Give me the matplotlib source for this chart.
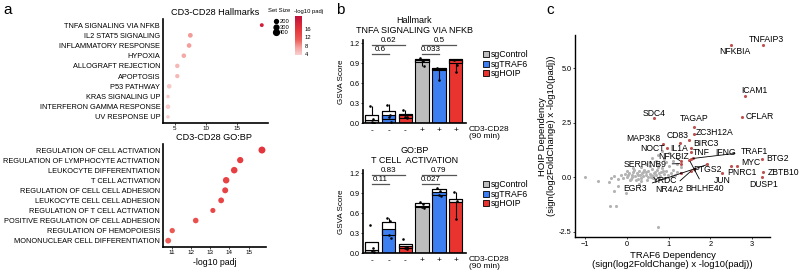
import matplotlib
matplotlib.use('Agg')
import matplotlib.pyplot as plt
from matplotlib.colors import LinearSegmentedColormap, Normalize
from matplotlib.lines import Line2D
from matplotlib.patches import Patch

plt.rcParams['font.family'] = ['Liberation Sans', 'DejaVu Sans']

# ---------------- panel a data ----------------
hall_terms = ['TNFA SIGNALING VIA NFKB', 'IL2 STAT5 SIGNALING', 'INFLAMMATORY RESPONSE', 'HYPOXIA',
              'ALLOGRAFT REJECTION', 'APOPTOSIS', 'P53 PATHWAY', 'KRAS SIGNALING UP',
              'INTERFERON GAMMA RESPONSE', 'UV RESPONSE UP']
hall_padj = [19.0, 7.5, 7.3, 6.45, 5.4, 5.4, 4.1, 3.9, 3.9, 3.9]
hall_size = [200, 290, 280, 270, 260, 240, 280, 160, 270, 150]

gobp_terms = ['REGULATION OF CELL ACTIVATION', 'REGULATION OF LYMPHOCYTE ACTIVATION',
              'LEUKOCYTE DIFFERENTIATION', 'T CELL ACTIVATION', 'REGULATION OF CELL CELL ADHESION',
              'LEUKOCYTE CELL CELL ADHESION', 'REGULATION OF T CELL ACTIVATION',
              'POSITIVE REGULATION OF CELL ADHESION', 'REGULATION OF HEMOPOIESIS',
              'MONONUCLEAR CELL DIFFERENTIATION']
gobp_padj = [15.69, 14.56, 14.25, 13.83, 13.78, 13.57, 13.14, 12.25, 11.03, 10.82]
gobp_size = [520, 450, 480, 470, 420, 400, 330, 380, 350, 400]

size_legend = [200, 300, 400]

# ---------------- panel b data ----------------
conds = ['-', '-', '-', '+', '+', '+']
guides = ['sgControl', 'sgTRAF6', 'sgHOIP', 'sgControl', 'sgTRAF6', 'sgHOIP']

tnfa_mean = [0.045, 0.125, 0.12, 0.95, 0.82, 0.955]
tnfa_lo = [0.0, 0.07, 0.085, 0.925, 0.80, 0.90]
tnfa_hi = [0.125, 0.185, 0.135, 0.965, 0.835, 0.965]
tnfa_wlo = [0.0, 0.07, 0.085, 0.86, 0.65, 0.77]
tnfa_whi = [0.265, 0.285, 0.2, 0.965, 0.835, 0.965]
tnfa_pts = [[0.26, 0.06, 0.02, 0.01], [0.28, 0.12, 0.1, 0.02], [0.2, 0.1, 0.09, 0.085],
            [0.975, 0.93, 0.95, 0.86], [0.835, 0.82, 0.65], [0.955, 0.87, 0.77]]
tnfa_sig = [('0.62', 0, 2, 1.175), ('0.6', 0, 1, 1.04), ('0.5', 3, 5, 1.175), ('0.033', 3, 4, 1.04)]

tcell_mean = [0.05, 0.365, 0.11, 0.71, 0.915, 0.765]
tcell_lo = [0.0, 0.275, 0.08, 0.69, 0.875, 0.765]
tcell_hi = [0.165, 0.475, 0.135, 0.76, 0.97, 0.82]
tcell_wlo = [0.0, 0.275, 0.08, 0.69, 0.875, 0.52]
tcell_whi = [0.165, 0.525, 0.135, 0.76, 0.97, 0.925]
tcell_pts = [[0.42, 0.075, 0.035, 0.02], [0.525, 0.49, 0.27, 0.23], [0.21, 0.1, 0.08, 0.06],
             [0.765, 0.74, 0.7, 0.68], [0.975, 0.93, 0.88, 0.86], [0.92, 0.78, 0.52]]
tcell_sig = [('0.83', 0, 2, 1.175), ('0.11', 0, 1, 1.04), ('0.79', 3, 5, 1.175), ('0.027', 3, 4, 1.04)]

# ---------------- panel c data ----------------
genes = ['TNFAIP3', 'NFKBIA', 'ICAM1', 'CFLAR', 'SDC4', 'TAGAP', 'ZC3H12A', 'CD83', 'MAP3K8',
         'BIRC3', 'NOCT', 'IL1A', 'TNF', 'IFNG', 'TRAF1', 'NFKBIZ', 'SERPINB9', 'MYC', 'BTG2',
         'PTGS2', 'PNRC1', 'ZBTB10', 'DUSP1', 'JUN', 'YRDC', 'EGR3', 'NR4A2', 'BHLHE40']
gene_x = [3.27, 2.49, 2.83, 2.76, 0.65, 1.61, 1.60, 1.50, 0.86,
          1.27, 0.96, 1.53, 1.53, 1.58, 1.55, 1.30, 1.30, 2.65, 3.25,
          1.62, 2.49, 3.27, 3.25, 2.27, 1.30, 1.93, 1.55, 1.50]
gene_y = [6.06, 6.06, 3.70, 2.76, 2.69, 2.28, 2.00, 1.72, 1.52,
          1.57, 1.34, 1.32, 1.14, 0.90, 0.85, 0.73, 0.62, 0.53, 0.81,
          0.36, 0.50, 0.23, 0.00, 0.17, 0.20, 0.58, 0.30, 0.78]
label_x = [3.34, 2.58, 3.05, 2.85, 0.655, 1.61, 1.65, 1.21, 0.40,
           1.58, 0.62, 1.26, 1.58, 2.36, 3.05, 1.12, 0.44, 2.97, 3.61,
           1.94, 2.76, 3.76, 3.27, 2.29, 0.92, 0.20, 1.03, 1.86]
label_y = [6.32, 5.75, 3.97, 2.76, 2.91, 2.67, 2.03, 1.90, 1.75,
           1.54, 1.30, 1.30, 1.14, 1.14, 1.19, 0.93, 0.58, 0.69, 0.84,
           0.35, 0.23, 0.20, -0.33, -0.14, -0.14, -0.53, -0.59, -0.53]
label_ha = ['center', 'center', 'center', 'left', 'center', 'center', 'left', 'center', 'center',
            'left', 'center', 'center', 'left', 'center', 'center', 'center', 'center', 'center', 'center',
            'center', 'center', 'center', 'center', 'center', 'center', 'center', 'center', 'center']
with_segment = ['TRAF1', 'SERPINB9', 'EGR3', 'NR4A2', 'BHLHE40', 'YRDC', 'NFKBIZ']

bg_x = [-0.38, -0.3, -0.22, -0.15, -0.1, -0.05, 0.0, 0.05, 0.1, 0.12, 0.15, 0.2, 0.22, 0.25, 0.3,
        0.32, 0.35, 0.4, 0.42, 0.45, 0.5, 0.52, 0.55, 0.6, 0.62, 0.65, 0.7, 0.72, 0.75, 0.8, 0.82,
        0.85, 0.9, 0.95, 1.0, 1.05, 1.1, 1.15, 1.2, 1.3,
        0.0, 0.08, 0.18, 0.28, 0.38, 0.48, 0.58, 0.68, 0.78, 0.88, 0.98, 1.08, 0.15, 0.35, 0.55,
        0.75, 0.95, 0.03, 0.13, 0.27, 0.37, 0.47, 0.57, 0.67, 0.77, 0.87, 0.33, 0.63,
        0.6, 0.75, 0.9, 1.0, 0.55, 1.1, 0.85, 1.2, 0.45, 0.7,
        -0.3, -0.4, -0.27, 0.74, -0.02, -0.2, 0.3, -1.0, -0.7, -0.42]
bg_y = [-0.05, 0.05, -0.1, 0.1, -0.02, 0.15, 0.0, 0.2, -0.08, 0.12, 0.25, 0.05, -0.12, 0.18, 0.3,
        0.08, -0.05, 0.22, 0.35, 0.1, 0.02, 0.28, 0.15, 0.38, -0.05, 0.2, 0.1, 0.32, 0.45, 0.05,
        0.25, 0.4, 0.15, 0.3, 0.5, 0.2, 0.35, 0.1, 0.25, 0.45,
        0.3, -0.15, 0.32, -0.1, 0.05, -0.12, 0.12, -0.08, 0.18, -0.02, 0.1, 0.05, 0.4, 0.45, 0.5,
        0.6, 0.7, 0.1, 0.02, 0.12, 0.2, 0.25, 0.0, 0.22, -0.05, 0.3, -0.2, 0.05,
        0.9, 1.0, 0.85, 1.1, 0.7, 0.75, 1.2, 0.6, 0.6, 0.75,
        -0.64, -1.33, -1.33, -2.27, -0.75, -0.4, -0.3, 0.02, -0.18, -0.22]

# ---------------- styling ----------------
W, H = 800, 277
fig = plt.figure(figsize=(8, 2.77), dpi=100)


def box(l, t, r, b):
    return [l / W, (H - b) / H, (r - l) / W, (b - t) / H]


cmap = LinearSegmentedColormap.from_list(
    'padj', [(0, '#f9d0d0'), (0.2, '#f4a09c'), (0.4, '#ec5a55'), (0.65, '#e4363b'), (1.0, '#c0103a')])
norm = Normalize(vmin=3.5, vmax=22)


def dot_d(n):
    return (2.0 + 0.0095 * n) * 0.72


def dot_panel(ax, terms, vals, sizes, title, xlim, xticks):
    ys = list(range(len(terms)))
    ax.scatter(vals, ys, s=[dot_d(n) ** 2 for n in sizes], c=vals, cmap=cmap, norm=norm,
               edgecolors='none', zorder=3, clip_on=False)
    ax.set_yticks(ys)
    ax.set_yticklabels(terms, fontsize=5.3)
    ax.set_ylim(len(terms) - 0.4, -0.6)
    ax.set_xlim(*xlim)
    ax.set_xticks(xticks)
    ax.tick_params(axis='x', labelsize=4.5, length=1.5, width=0.5, pad=1)
    ax.tick_params(axis='y', length=0, pad=2)
    for s in ['top', 'right']:
        ax.spines[s].set_visible(False)
    for s in ['left', 'bottom']:
        ax.spines[s].set_linewidth(1.2)
    ax.set_title(title, fontsize=6.6, pad=3)


ax_a1 = fig.add_axes(box(163, 19, 268, 123))
dot_panel(ax_a1, hall_terms, hall_padj, hall_size, 'CD3-CD28 Hallmarks', (3.1, 20), [5, 10, 15])
ax_a2 = fig.add_axes(box(163, 144, 266, 246.7))
dot_panel(ax_a2, gobp_terms, gobp_padj, gobp_size, 'CD3-CD28 GO:BP', (10.55, 15.9), [11, 12, 13, 14, 15])
ax_a2.set_xlabel('-log10 padj', fontsize=6.3, labelpad=2)

size_handles = [Line2D([], [], marker='o', ls='', color='black', markersize=dot_d(n)) for n in size_legend]
fig.legend(size_handles, [str(n) for n in size_legend], loc='upper left',
           bbox_to_anchor=(270 / W, 1 - 16 / H), frameon=False, fontsize=4.2,
           labelspacing=0.1, handletextpad=0.1, handlelength=1.0, borderpad=0)
fig.text(268 / W, 1 - 11 / H, 'Set Size', fontsize=4.2, va='center')

cax = fig.add_axes(box(295, 16, 302, 55))
cb = fig.colorbar(plt.cm.ScalarMappable(norm=norm, cmap=cmap), cax=cax, ticks=[4, 8, 12, 16])
cb.outline.set_visible(False)
cax.tick_params(labelsize=4.2, length=0, pad=2)
fig.text(294 / W, 1 - 11 / H, '-log10 padj', fontsize=4.2, va='center')

# ---------------- panel b ----------------
bar_cols = {'sgControl': '#bdbdbd', 'sgTRAF6': '#3d7ef0', 'sgHOIP': '#e8332e'}
JIT = (-0.12, 0.08, 0.0, 0.12)


def gsva_panel(ax, title, mean, lo, hi, wlo, whi, pts, sig):
    xs = list(range(len(mean)))
    cols = [bar_cols[g] for g in guides]
    ax.bar(xs, [h - l for h, l in zip(hi, lo)], 0.8, bottom=lo, color='white', edgecolor='black',
           linewidth=0.8, zorder=1)
    ax.bar(xs, mean, 0.8, color=cols, edgecolor='black', linewidth=0.8, zorder=2)
    ax.bar(xs, [h - l for h, l in zip(hi, lo)], 0.8, bottom=lo, fill=False, edgecolor='black',
           linewidth=0.8, zorder=3)
    ax.vlines(xs, hi, whi, color='black', linewidth=0.8, zorder=3)
    ax.vlines(xs, wlo, lo, color='black', linewidth=0.8, zorder=3)
    for x, p in zip(xs, pts):
        ax.scatter([x + JIT[k] for k in range(len(p))], p, s=3.5, color='black', zorder=4, linewidths=0)
    for lab, a, b, y in sig:
        ax.plot([a, b], [y, y], color='#555555', linewidth=0.9, clip_on=False)
        ax.text((a + b) / 2, y + 0.015, lab, ha='center', va='bottom', fontsize=5.8)
    ax.set_xlim(-0.52, 5.6)
    ax.set_ylim(0, 1.25)
    ax.set_yticks([0.0, 0.3, 0.6, 0.9, 1.2])
    ax.set_yticklabels(['0.0', '0.3', '0.6', '0.9', '1.2'])
    ax.set_xticks(xs)
    ax.set_xticklabels(conds)
    ax.tick_params(axis='x', length=0, labelsize=6, pad=3)
    ax.tick_params(axis='y', labelsize=5.2, length=1.5, width=0.5, pad=1)
    for s in ['top', 'right']:
        ax.spines[s].set_visible(False)
    for s in ['left', 'bottom']:
        ax.spines[s].set_linewidth(1.2)
    ax.set_ylabel('GSVA Score', fontsize=5.8, labelpad=3)
    ax.set_title(title, fontsize=6.5, pad=5, linespacing=1.1)
    ax.text(1.03, -0.12, 'CD3-CD28\n(90 min)', transform=ax.transAxes, fontsize=6, ha='left',
            va='center', linespacing=1.0)
    handles = [Patch(facecolor=bar_cols[g], edgecolor='black', linewidth=0.6) for g in bar_cols]
    ax.legend(handles, list(bar_cols), loc='center left', bbox_to_anchor=(1.12, 0.71), frameon=False,
              fontsize=6.3, handlelength=0.7, handleheight=0.7, handletextpad=0.3, labelspacing=0.05,
              borderpad=0)


ax_b1 = fig.add_axes(box(363, 40, 465.8, 123.3))
gsva_panel(ax_b1, 'Hallmark\nTNFA SIGNALING VIA NFKB', tnfa_mean, tnfa_lo, tnfa_hi, tnfa_wlo, tnfa_whi,
           tnfa_pts, tnfa_sig)
ax_b2 = fig.add_axes(box(363, 170, 465.8, 253.3))
gsva_panel(ax_b2, 'GO:BP\nT CELL  ACTIVATION', tcell_mean, tcell_lo, tcell_hi, tcell_wlo, tcell_whi,
           tcell_pts, tcell_sig)

# ---------------- panel c ----------------
ax_c = fig.add_axes(box(575, 35, 770, 237.3))
ax_c.scatter(bg_x, bg_y, s=5, color='#b3b3b3', linewidths=0, zorder=2)
ax_c.scatter(gene_x, gene_y, s=5, color='#c0504d', linewidths=0, zorder=3)
for g, x, y, tx, ty, ha in zip(genes, gene_x, gene_y, label_x, label_y, label_ha):
    if g in with_segment:
        ax_c.annotate(g, (x, y), (tx, ty), fontsize=6.2, ha=ha, va='center',
                      arrowprops=dict(arrowstyle='-', lw=0.6, color='black', shrinkA=2, shrinkB=1))
    else:
        ax_c.text(tx, ty, g, fontsize=6.2, ha=ha, va='center')
ax_c.set_xlim(-1.24, 3.43)
ax_c.set_ylim(-2.76, 6.52)
ax_c.set_xticks([-1, 0, 1, 2, 3])
ax_c.set_yticks([-2.5, 0.0, 2.5, 5.0])
ax_c.set_yticklabels(['-2.5', '0.0', '2.5', '5.0'])
ax_c.tick_params(labelsize=5.3, length=1.5, width=0.5, pad=1)
for s in ['top', 'right']:
    ax_c.spines[s].set_visible(False)
for s in ['left', 'bottom']:
    ax_c.spines[s].set_linewidth(1.0)
ax_c.set_xlabel('TRAF6 Dependency\n(sign(log2FoldChange) x -log10(padj))', fontsize=6.8, labelpad=2,
                linespacing=1.05)
ax_c.set_ylabel('HOIP Dependency\n(sign(log2FoldChange) x -log10(padj))', fontsize=6.8, labelpad=2,
                linespacing=1.05)

# panel letters
fig.text(3 / W, 1 - 10 / H, 'a', fontsize=11, va='center')
fig.text(336 / W, 1 - 10 / H, 'b', fontsize=11, va='center')
fig.text(546 / W, 1 - 10 / H, 'c', fontsize=11, va='center')

fig.savefig('out.png', dpi=100)
